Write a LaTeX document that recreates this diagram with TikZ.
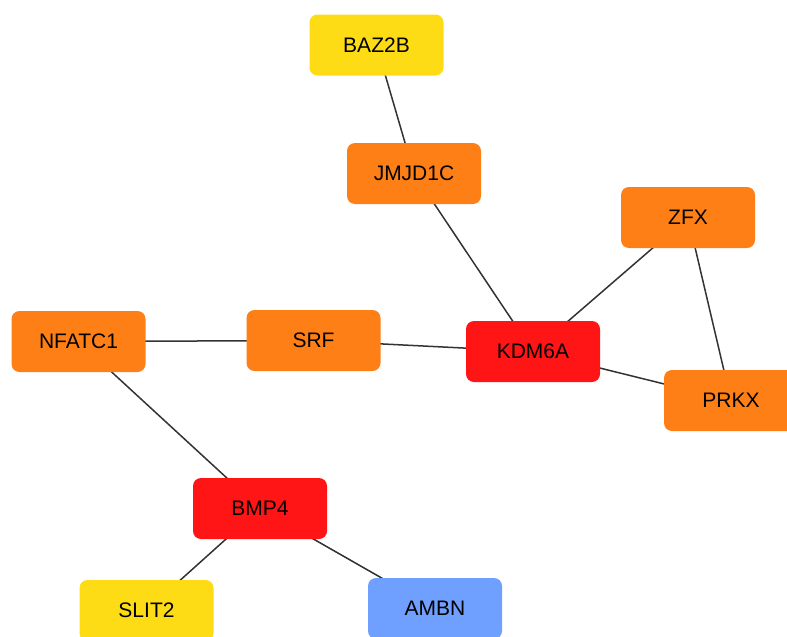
\documentclass[tikz,border=0pt]{standalone}
\usepackage{fontspec}
\setmainfont{Liberation Sans}
\usetikzlibrary{backgrounds}
\definecolor{cyel}{HTML}{FDDC16}
\definecolor{corg}{HTML}{FF7F17}
\definecolor{cred}{HTML}{FF1515}
\definecolor{cblu}{HTML}{70A0FF}
\definecolor{cedge}{HTML}{333333}
\tikzset{
  gene/.style={rounded corners=8pt, minimum width=134pt, minimum height=61pt, inner sep=0pt, font=\fontsize{21}{21}\selectfont, text=black},
  yel/.style={gene, fill=cyel},
  org/.style={gene, fill=corg},
  red/.style={gene, fill=cred},
  blu/.style={gene, fill=cblu},
  link/.style={draw=cedge, line width=1.5pt}
}
\begin{document}
\begin{tikzpicture}[x=1pt,y=-1pt]
\useasboundingbox (0,0) rectangle (787,637);
\clip (0,0) rectangle (787,637);
\node[yel] (baz) at (376.5,45) {BAZ2B};
\node[org] (jmj) at (414,173.5) {JMJD1C};
\node[org] (zfx) at (688,217.5) {ZFX};
\node[org] (nfa) at (78.5,341.5) {NFATC1};
\node[org] (srf) at (313.5,340.5) {SRF};
\node[red] (kdm) at (533,351.5) {KDM6A};
\node[org] (prk) at (731,400.5) {PRKX};
\node[red] (bmp) at (260,508.5) {BMP4};
\node[yel] (sli) at (146.5,610.5) {SLIT2};
\node[blu] (amb) at (435,608.5) {AMBN};
\begin{scope}[on background layer]
\draw[link] (baz.center) -- (jmj.center);
\draw[link] (jmj.center) -- (kdm.center);
\draw[link] (zfx.center) -- (kdm.center);
\draw[link] (zfx.center) -- (prk.center);
\draw[link] (kdm.center) -- (prk.center);
\draw[link] (srf.center) -- (kdm.center);
\draw[link] (nfa.center) -- (srf.center);
\draw[link] (nfa.center) -- (bmp.center);
\draw[link] (bmp.center) -- (sli.center);
\draw[link] (bmp.center) -- (amb.center);
\end{scope}
\end{tikzpicture}
\end{document}
